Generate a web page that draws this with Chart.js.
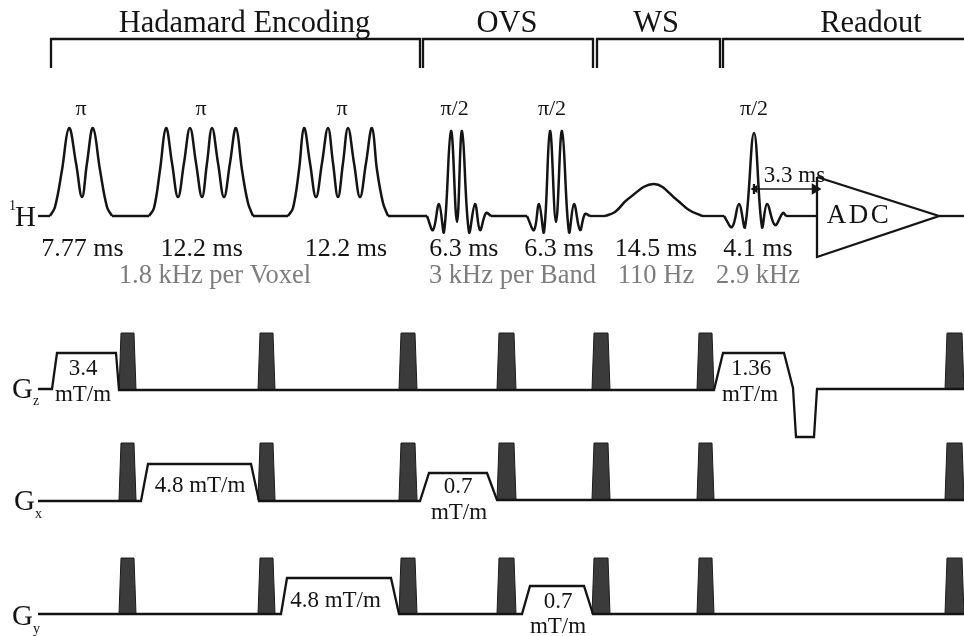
<!DOCTYPE html>
<html>
<head>
<meta charset="utf-8">
<title>Pulse sequence</title>
<script src="https://cdn.jsdelivr.net/npm/chart.js@4"></script>
<style>
  html, body { margin: 0; padding: 0; background: #fff; }
  canvas { display: block; }
</style>
</head>
<body>
<canvas id="seq" width="964" height="636"></canvas>
<script>
// section brackets
const bracketHadamard = [[51, 68], [51, 39], [420, 39], [420, 68]];
const bracketOvs = [[423, 68], [423, 39], [593, 39], [593, 68]];
const bracketWs = [[597, 68], [597, 39], [720, 39], [720, 68]];
const bracketReadout = [[723, 68], [723, 39], [964, 39]];

// RF trace, smooth parts
const rfPulse1 = [[50, 216], [55, 207], [62, 170], [69, 128], [76, 163], [82, 197], [87, 163], [93, 128], [100, 170], [107, 207], [112, 216]];
const rfPulse2 = [[149, 216], [154, 208], [160, 170], [166, 128], [172, 163], [178, 197], [184, 163], [190, 128], [196, 163], [202, 197], [207, 163], [212, 128], [218, 163], [224, 197], [230, 163], [236, 128], [242, 170], [248, 203], [253, 216]];
const rfPulse3 = [[288, 216], [293, 208], [299, 170], [304, 128], [310, 163], [316, 197], [322, 163], [328, 128], [333, 163], [338, 197], [343, 163], [348, 128], [354, 163], [360, 197], [366, 163], [372, 128], [377, 170], [383, 203], [388, 216]];
const rfSinc1 = [[427, 216], [433, 230], [439, 204], [444, 232], [451, 131], [457, 222], [462, 131], [469, 232], [475, 204], [480, 230], [486, 213], [491, 216]];
const rfSinc2 = [[527, 216], [534, 230], [539, 204], [544, 232], [550, 131], [556, 222], [562, 131], [569, 232], [574, 204], [580, 230], [585, 214], [590, 216]];
const rfBump = [[605, 216], [615, 212], [628, 199], [654, 184], [677, 200], [689, 210], [702, 216]];
const rfSinc3 = [[724, 216], [732, 227], [739, 204], [745, 227], [754, 133], [762, 227], [767, 204], [775, 225], [783, 213], [786, 216]];

// RF trace, flat parts between the pulses (from, to)
const rfFlats = [[38, 50], [112, 149], [253, 288], [388, 427], [491, 527], [590, 605], [702, 724], [786, 817]];
const rfBaseline = 216;

// ADC
const adcTriangle = [[817, 177], [939, 216], [817, 257], [817, 177]];
const adcTail = [[939, 216], [964, 216]];
const delayArrow = [[755, 189], [815, 189]];
const delayTick = [[754, 184], [754, 194]];

// gradient waveforms
const gzTrace = [[38, 389], [52, 389], [57, 353], [116, 353], [119, 390], [714, 390], [723, 353], [784, 353], [793, 388], [796, 437], [814, 437], [817, 389], [964, 389]];
const gxTrace = [[38, 501], [141, 501], [148, 464], [251, 464], [259, 501], [420, 501], [429, 473], [487, 473], [497, 500], [964, 500]];
const gyTrace = [[38, 614], [281, 614], [287, 578], [391, 578], [399, 614], [522, 614], [530, 586], [584, 586], [593, 614], [964, 614]];

// crusher blocks, left and right edge at the top
const crusherLeft = [121, 260, 401, 499, 594, 699, 947];
const crusherRight = [134, 273, 415, 514, 608, 712, 962];
const crusherTops = [333, 443, 558];
const crusherBases = [390, 500, 614];

// text
const sectionTitles = ['Hadamard Encoding', 'OVS', 'WS', 'Readout'];
const flipAngles = ['π', 'π', 'π', 'π/2', 'π/2', 'π/2'];
const durations = ['7.77 ms', '12.2 ms', '12.2 ms', '6.3 ms', '6.3 ms', '14.5 ms', '4.1 ms'];
const bandwidths = ['1.8 kHz per Voxel', '3 kHz per Band', '110 Hz', '2.9 kHz'];
const gradLabels = ['3.4', 'mT/m', '4.8 mT/m', '0.7', 'mT/m', '4.8 mT/m', '0.7', 'mT/m', '1.36', 'mT/m'];

// where the text goes
const titleX = [244.5, 507, 656, 871];
const flipX = [81, 201, 342, 454.6, 552, 754];
const durationX = [82.5, 201.6, 346, 463.8, 559, 656, 758];
const bandwidthX = [215, 512.5, 656, 758];
const gradLabelX = [83, 83, 200, 458, 459, 335.5, 558, 558, 751, 750];
const gradLabelY = [375, 401, 492, 493, 519, 607, 608, 633, 375, 401];

const ink = '#141414';
const grey = '#7d7d7d';
const blockColor = '#3b3b3b';

function toPoints(list) {
  return list.map(p => ({ x: p[0], y: p[1] }));
}

function lineSet(list) {
  return { data: toPoints(list), borderColor: ink, borderWidth: 2.3, pointRadius: 0, tension: 0, fill: false };
}

function rfSet(list) {
  const s = lineSet(list);
  s.tension = 0.4;
  s.borderWidth = 2.5;
  return s;
}

var datasets = [];
[bracketHadamard, bracketOvs, bracketWs, bracketReadout].forEach(b => datasets.push(lineSet(b)));
[rfPulse1, rfPulse2, rfPulse3, rfSinc1, rfSinc2, rfBump, rfSinc3].forEach(r => datasets.push(rfSet(r)));
rfFlats.forEach(f => datasets.push(lineSet([[f[0], rfBaseline], [f[1], rfBaseline]])));
[adcTriangle, adcTail, delayTick].forEach(a => datasets.push(lineSet(a)));

// arrow with heads on its ends
var arrow = lineSet(delayArrow);
arrow.borderWidth = 1.5;
arrow.pointStyle = 'triangle';
arrow.pointRadius = [3, 5];
arrow.pointRotation = [-90, 90];
arrow.pointBackgroundColor = ink;
arrow.pointBorderColor = ink;
datasets.push(arrow);

[gzTrace, gxTrace, gyTrace].forEach(g => datasets.push(lineSet(g)));

// crusher trapezoids on each gradient row
crusherTops.forEach(function (top, row) {
  const base = crusherBases[row];
  crusherLeft.forEach(function (left, i) {
    const right = crusherRight[i];
    datasets.push({
      data: toPoints([[left - 2, base], [left, top], [right, top], [right + 2, base]]),
      borderColor: '#1c1c1c',
      borderWidth: 1,
      backgroundColor: blockColor,
      pointRadius: 0,
      tension: 0,
      fill: { value: base }
    });
  });
});

const textPlugin = {
  id: 'seqText',
  afterDatasetsDraw(chart) {
    const c = chart.ctx;
    const sx = chart.scales.x;
    const sy = chart.scales.y;
    function put(text, x, y, size, color, align) {
      c.font = size + 'px "Liberation Serif"';
      c.fillStyle = color || ink;
      c.textAlign = align || 'center';
      c.textBaseline = 'alphabetic';
      c.fillText(text, sx.getPixelForValue(x), sy.getPixelForValue(y));
    }
    c.save();
    sectionTitles.forEach((t, i) => put(t, titleX[i], 32, 30.5));
    flipAngles.forEach((t, i) => put(t, flipX[i], 115, 22));
    durations.forEach((t, i) => put(t, durationX[i], 256, 26));
    bandwidths.forEach((t, i) => put(t, bandwidthX[i], 283, 26.5, grey));
    gradLabels.forEach((t, i) => put(t, gradLabelX[i], gradLabelY[i], 23));
    put('3.3 ms', 794.5, 182, 23);

    // channel names
    put('1', 9, 210, 14, ink, 'left');
    put('H', 15, 226, 29, ink, 'left');
    put('G', 12, 398, 29, ink, 'left');
    put('z', 33, 405, 14, ink, 'left');
    put('G', 14, 510, 29, ink, 'left');
    put('x', 35, 518, 14, ink, 'left');
    put('G', 12, 625, 29, ink, 'left');
    put('y', 33, 633, 14, ink, 'left');

    c.letterSpacing = '2.5px';
    put('ADC', 859, 223, 27);
    c.letterSpacing = '0px';
    c.restore();
  }
};

new Chart(document.getElementById('seq'), {
  type: 'line',
  data: { datasets: datasets },
  options: {
    responsive: false,
    animation: false,
    layout: { padding: 0, autoPadding: false },
    clip: false,
    scales: {
      x: { type: 'linear', min: 0, max: 964, display: false },
      y: { type: 'linear', min: 0, max: 636, reverse: true, display: false }
    },
    plugins: {
      legend: { display: false },
      tooltip: { enabled: false },
      title: { display: false }
    }
  },
  plugins: [textPlugin]
});
</script>
</body>
</html>
